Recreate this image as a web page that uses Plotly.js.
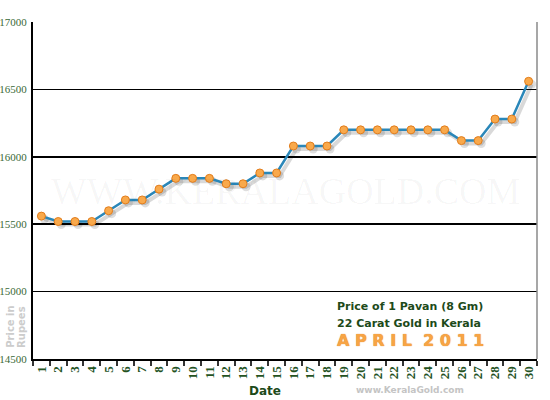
<!DOCTYPE html>
<html>
<head>
<meta charset="utf-8">
<script src="https://cdn.plot.ly/plotly-3.0.1.min.js"></script>
<style>
  html, body { margin: 0; padding: 0; background: #ffffff; }
  #gold-chart { width: 550px; height: 400px; }
</style>
</head>
<body>
<div id="gold-chart"></div>
<script>
// April 2011 - one pavan (8 gm) of 22 carat gold, Kerala
const days = ["1", "2", "3", "4", "5", "6", "7", "8", "9", "10",
  "11", "12", "13", "14", "15", "16", "17", "18", "19", "20",
  "21", "22", "23", "24", "25", "26", "27", "28", "29", "30"];
const prices = [15560, 15520, 15520, 15520, 15600, 15680, 15680, 15760, 15840, 15840,
  15840, 15800, 15800, 15880, 15880, 16080, 16080, 16080, 16200, 16200,
  16200, 16200, 16200, 16200, 16200, 16120, 16120, 16280, 16280, 16560];
const priceTicks = [14500, 15000, 15500, 16000, 16500, 17000];

var chartDiv = document.getElementById("gold-chart");

// soft drop shadow under the line, drawn on hidden axes nudged a few px
var shadowTrace = {
  x: days,
  y: prices,
  xaxis: "x",
  yaxis: "y",
  mode: "lines+markers",
  type: "scatter",
  line: { color: "rgba(0,0,0,0.15)", width: 4 },
  marker: { size: 9, color: "rgba(0,0,0,0.13)" },
  hoverinfo: "skip",
};

var priceTrace = {
  x: days,
  y: prices,
  xaxis: "x2",
  yaxis: "y2",
  name: "Price",
  mode: "lines+markers",
  type: "scatter",
  line: { color: "#2a87b9", width: 2.5 },
  marker: { size: 8, color: "#f9a94b", line: { color: "#e27d1c", width: 1 } },
};

var greenSerif = "Liberation Serif, DejaVu Serif, serif";
var verdanaish = "DejaVu Sans, Verdana, sans-serif";

var layout = {
  width: 550,
  height: 400,
  showlegend: false,
  margin: { t: 22, b: 41, l: 33, r: 13, pad: 0 },
  plot_bgcolor: "#ffffff",
  paper_bgcolor: "#ffffff",
  // hidden axes for the shadow
  xaxis: {
    type: "category",
    range: [-0.5 - 0.18, 29.5 - 0.18],
    visible: false,
    fixedrange: true,
  },
  yaxis: {
    range: [14500 + 22, 17000 + 22],
    visible: false,
    fixedrange: true,
  },
  // real axes
  xaxis2: {
    type: "category",
    overlaying: "x",
    range: [-0.5, 29.5],
    showgrid: false,
    showline: true,
    linecolor: "#000000",
    linewidth: 2,
    ticks: "outside",
    tickson: "boundaries",
    ticklen: 5,
    tickwidth: 2,
    tickcolor: "#333333",
    tickangle: -90,
    tickfont: { family: greenSerif, size: 13, color: "#24531f", weight: "bold" },
  },
  yaxis2: {
    overlaying: "y",
    range: [14500, 17000],
    tickvals: priceTicks,
    tickformat: "d",
    showgrid: true,
    gridcolor: "#000000",
    gridwidth: 1.5,
    showline: true,
    linecolor: "#000000",
    linewidth: 2,
    zeroline: false,
    ticks: "",
    ticklabelstandoff: 2,
    tickfont: { family: greenSerif, size: 11, color: "#3a6a38" },
  },
  shapes: [
    {
      type: "line", xref: "paper", yref: "paper",
      x0: 1, x1: 1, y0: 0, y1: 1,
      line: { color: "#8a8a8a", width: 1.5 },
    },
  ],
  annotations: [
    {
      text: "WWW.KERALAGOLD.COM",
      xref: "paper", yref: "paper", x: 0.5, y: 0.5,
      showarrow: false,
      font: { family: greenSerif, size: 38, color: "rgba(0,0,0,0.035)" },
    },
    {
      text: "<b>Price of 1 Pavan (8 Gm)</b>",
      xref: "paper", yref: "paper", x: 0.6, y: 0.131, xanchor: "left",
      showarrow: false,
      font: { family: verdanaish, size: 11, color: "#1d4a19" },
    },
    {
      text: "<b>22 Carat Gold in Kerala</b>",
      xref: "paper", yref: "paper", x: 0.6, y: 0.081, xanchor: "left",
      showarrow: false,
      font: { family: verdanaish, size: 11, color: "#1d4a19" },
    },
    {
      text: "<b>A P R I L  2 0 1 1</b>",
      xref: "paper", yref: "paper", x: 0.6, y: 0.02, xanchor: "left",
      showarrow: false,
      font: {
        family: verdanaish, size: 16, color: "#f7a445",
        shadow: "0 0 1px #d9740f",
      },
    },
    {
      text: "<b>Price in</b>",
      xref: "paper", yref: "paper", x: -0.044, y: 0.095,
      xanchor: "center", yanchor: "middle",
      showarrow: false, textangle: -90,
      font: { family: verdanaish, size: 10, color: "#cccccc" },
    },
    {
      text: "<b>Rupees</b>",
      xref: "paper", yref: "paper", x: -0.022, y: 0.095,
      xanchor: "center", yanchor: "middle",
      showarrow: false, textangle: -90,
      font: { family: verdanaish, size: 10, color: "#cccccc" },
    },
    {
      text: "<b>Date</b>",
      xref: "paper", yref: "paper", x: 0.46, y: -0.095, yanchor: "middle",
      showarrow: false,
      font: { family: verdanaish, size: 12, color: "#1d4a19" },
    },
    {
      text: "<b>www.KeralaGold.com</b>",
      xref: "paper", yref: "paper", x: 0.86, y: -0.092, yanchor: "middle",
      showarrow: false,
      font: { family: verdanaish, size: 9, color: "#c4c4c4" },
    },
  ],
};

var config = { responsive: false, displayModeBar: false, staticPlot: true };

Plotly.newPlot(chartDiv, [shadowTrace, priceTrace], layout, config);
</script>
</body>
</html>
